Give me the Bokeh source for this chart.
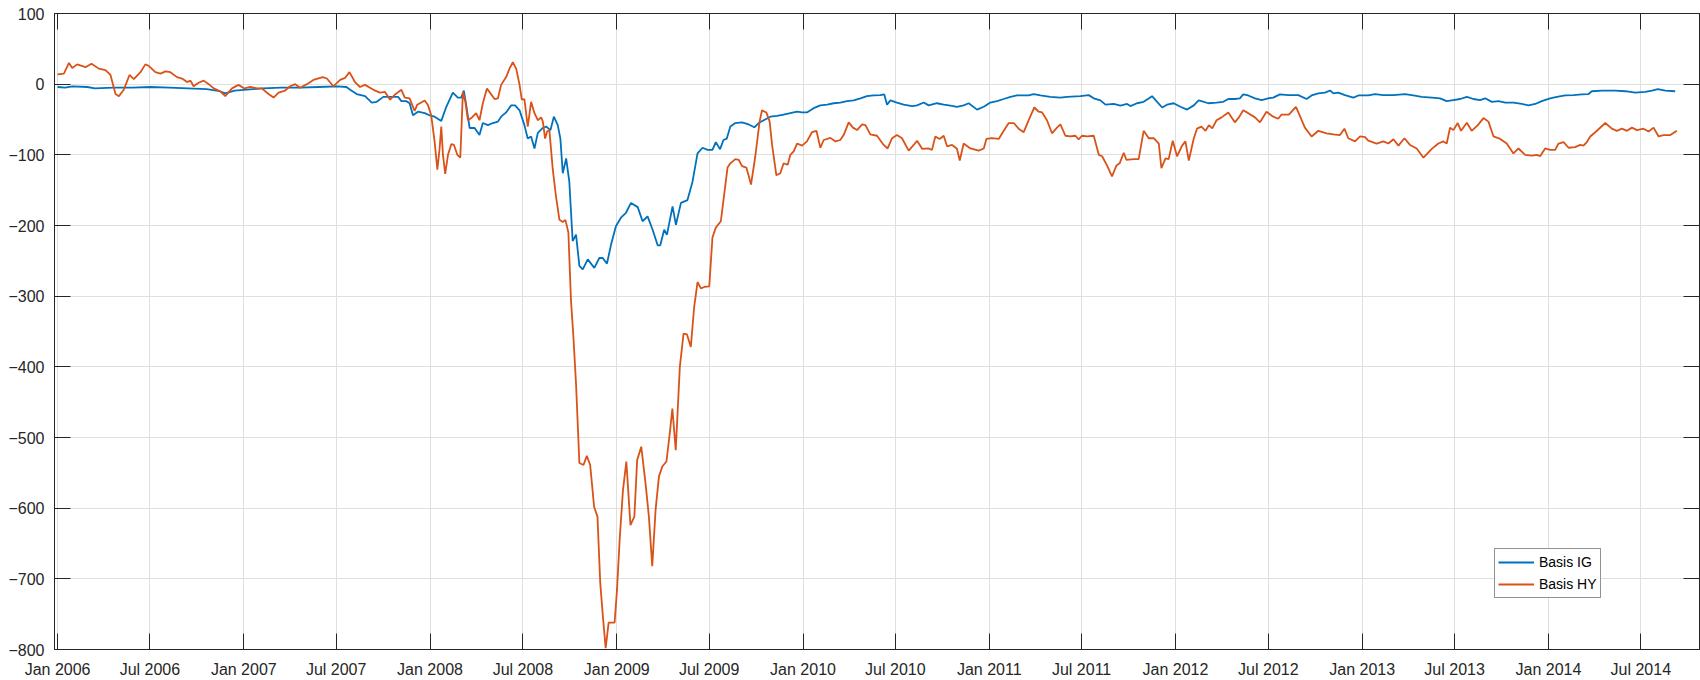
import numpy as np
import pandas as pd
from bokeh.plotting import figure
from bokeh.models import (FixedTicker, DatetimeTickFormatter, LinearAxis, DatetimeAxis,
                          Legend, LegendItem, Range1d)
from bokeh.embed import file_html
from bokeh.resources import INLINE

# ---- data (time in years since 1 Jan 2006, values in bp) ----
ig_yrs = [0.000, 0.040, 0.079, 0.160, 0.200, 0.300, 0.400, 0.500, 0.600, 0.700, 0.800, 0.870, 0.900, 0.950,
          1.000, 1.100, 1.200, 1.300, 1.400, 1.500, 1.550, 1.570, 1.605, 1.650, 1.686, 1.713, 1.748, 1.791,
          1.827, 1.845, 1.871, 1.889, 1.907, 1.934, 1.970, 1.996, 2.023, 2.059, 2.086, 2.121, 2.148, 2.166,
          2.180, 2.193, 2.211, 2.238, 2.264, 2.282, 2.309, 2.336, 2.363, 2.380, 2.407, 2.434, 2.455, 2.479,
          2.505, 2.523, 2.541, 2.559, 2.577, 2.604, 2.621, 2.645, 2.663, 2.684, 2.698, 2.711, 2.729, 2.746,
          2.764, 2.782, 2.800, 2.818, 2.845, 2.880, 2.907, 2.925, 2.948, 2.970, 2.996, 3.023, 3.050, 3.077,
          3.113, 3.139, 3.166, 3.193, 3.220, 3.234, 3.255, 3.270, 3.300, 3.318, 3.345, 3.380, 3.407, 3.434,
          3.461, 3.488, 3.514, 3.532, 3.555, 3.573, 3.591, 3.610, 3.637, 3.673, 3.708, 3.739, 3.762, 3.789,
          3.825, 3.860, 3.896, 3.932, 3.968, 3.995, 4.021, 4.057, 4.093, 4.129, 4.165, 4.200, 4.236, 4.272,
          4.308, 4.343, 4.379, 4.415, 4.436, 4.451, 4.469, 4.504, 4.540, 4.585, 4.612, 4.648, 4.674, 4.719,
          4.755, 4.791, 4.826, 4.862, 4.889, 4.934, 4.970, 5.005, 5.041, 5.077, 5.113, 5.148, 5.184, 5.211,
          5.238, 5.274, 5.327, 5.381, 5.417, 5.488, 5.533, 5.560, 5.596, 5.623, 5.667, 5.703, 5.739, 5.757,
          5.792, 5.828, 5.873, 5.900, 5.927, 5.953, 5.989, 6.025, 6.061, 6.097, 6.123, 6.138, 6.174, 6.219,
          6.255, 6.282, 6.317, 6.344, 6.362, 6.389, 6.425, 6.461, 6.496, 6.523, 6.559, 6.604, 6.658, 6.702,
          6.729, 6.765, 6.801, 6.828, 6.846, 6.872, 6.908, 6.953, 6.980, 7.033, 7.069, 7.114, 7.168, 7.230,
          7.275, 7.320, 7.374, 7.418, 7.454, 7.490, 7.526, 7.562, 7.597, 7.633, 7.660, 7.696, 7.732, 7.768,
          7.812, 7.857, 7.893, 7.929, 7.964, 8.009, 8.045, 8.090, 8.134, 8.179, 8.215, 8.233, 8.287, 8.358,
          8.412, 8.466, 8.519, 8.555, 8.587, 8.627, 8.680]
ig_val = [-4, -5, -3, -4, -6, -5, -5, -4, -5, -6, -7, -10, -13, -9,
          -8, -6, -5, -5, -4, -3, -4, -8, -14, -17, -26, -25, -18, -18,
          -18, -24, -24, -27, -44, -39, -41, -44, -46, -52, -32, -12, -19, -19,
          -9, -30, -62, -62, -72, -55, -58, -55, -53, -46, -40, -30, -30, -37,
          -58, -77, -74, -91, -69, -62, -60, -65, -46, -58, -77, -126, -105, -138,
          -222, -213, -257, -262, -248, -260, -246, -246, -254, -227, -201, -189, -182, -168,
          -174, -194, -187, -206, -228, -228, -206, -213, -173, -199, -168, -164, -138, -98,
          -90, -93, -93, -82, -92, -79, -77, -60, -55, -54, -57, -61, -55, -51,
          -46, -45, -43, -41, -39, -40, -40, -34, -30, -29, -27, -26, -24, -23,
          -20, -17, -16, -15.5, -14.5, -29, -23, -26, -29, -31, -30, -26, -30, -27,
          -29, -30.5, -32, -30, -27, -36, -32, -26, -24, -21, -18, -16, -16, -16,
          -14, -16, -18, -19, -18, -17, -15.5, -20, -23, -29, -28, -30.5, -28, -31,
          -27, -25, -17, -25, -33, -29, -27, -32, -36, -30, -23, -24, -27, -26,
          -25, -21, -21, -20, -14.5, -16, -20, -22.5, -20, -19, -14.5, -15.5, -15.5, -21,
          -16, -13, -12, -9, -13, -12, -15.5, -19, -16, -16, -14, -15.5, -15.5, -14,
          -16, -18, -19, -20, -24, -22.5, -21, -18, -21, -22.5, -20, -25, -24, -26,
          -26, -28, -30, -28, -24, -20, -18, -16, -15.5, -14.5, -14, -10, -9, -9,
          -10, -12, -11, -9, -7, -9, -10]

hy_yrs = [0.000, 0.034, 0.061, 0.079, 0.105, 0.150, 0.182, 0.221, 0.257, 0.284, 0.311, 0.329, 0.355, 0.386,
          0.409, 0.445, 0.471, 0.489, 0.525, 0.552, 0.579, 0.605, 0.641, 0.668, 0.695, 0.713, 0.730, 0.757,
          0.784, 0.811, 0.838, 0.873, 0.900, 0.936, 0.971, 1.002, 1.034, 1.070, 1.096, 1.132, 1.159, 1.186,
          1.221, 1.248, 1.275, 1.302, 1.338, 1.373, 1.423, 1.445, 1.480, 1.516, 1.543, 1.566, 1.596, 1.623,
          1.650, 1.695, 1.730, 1.757, 1.784, 1.809, 1.845, 1.863, 1.889, 1.916, 1.930, 1.970, 1.988, 2.005,
          2.023, 2.038, 2.050, 2.059, 2.068, 2.080, 2.095, 2.113, 2.127, 2.145, 2.161, 2.175, 2.188, 2.202,
          2.220, 2.246, 2.264, 2.282, 2.304, 2.323, 2.345, 2.363, 2.380, 2.407, 2.425, 2.443, 2.461, 2.479,
          2.491, 2.505, 2.523, 2.541, 2.559, 2.577, 2.595, 2.604, 2.616, 2.627, 2.639, 2.657, 2.675, 2.693,
          2.711, 2.725, 2.741, 2.755, 2.768, 2.782, 2.800, 2.822, 2.840, 2.858, 2.879, 2.897, 2.912, 2.926,
          2.941, 2.957, 2.989, 3.002, 3.016, 3.034, 3.052, 3.074, 3.095, 3.110, 3.132, 3.155, 3.173, 3.191,
          3.209, 3.227, 3.245, 3.267, 3.285, 3.299, 3.317, 3.339, 3.359, 3.377, 3.398, 3.416, 3.434, 3.452,
          3.470, 3.497, 3.514, 3.532, 3.559, 3.577, 3.595, 3.610, 3.637, 3.655, 3.673, 3.696, 3.721, 3.744,
          3.767, 3.780, 3.803, 3.821, 3.834, 3.857, 3.878, 3.896, 3.918, 3.932, 3.950, 3.968, 3.995, 4.021,
          4.048, 4.072, 4.093, 4.111, 4.147, 4.174, 4.200, 4.218, 4.245, 4.268, 4.290, 4.317, 4.335, 4.361,
          4.397, 4.433, 4.454, 4.478, 4.504, 4.531, 4.567, 4.594, 4.612, 4.639, 4.674, 4.692, 4.710, 4.733,
          4.755, 4.773, 4.800, 4.826, 4.841, 4.862, 4.898, 4.943, 4.970, 4.984, 5.014, 5.050, 5.077, 5.104,
          5.131, 5.157, 5.184, 5.211, 5.241, 5.265, 5.283, 5.309, 5.336, 5.363, 5.381, 5.408, 5.435, 5.462,
          5.479, 5.497, 5.524, 5.560, 5.587, 5.605, 5.631, 5.658, 5.682, 5.699, 5.721, 5.735, 5.775, 5.801,
          5.828, 5.855, 5.882, 5.909, 5.923, 5.945, 5.962, 5.984, 6.007, 6.034, 6.052, 6.070, 6.097, 6.114,
          6.138, 6.160, 6.178, 6.196, 6.219, 6.246, 6.282, 6.317, 6.339, 6.362, 6.389, 6.425, 6.452, 6.487,
          6.523, 6.550, 6.568, 6.607, 6.645, 6.666, 6.693, 6.729, 6.765, 6.810, 6.846, 6.881, 6.905, 6.926,
          6.962, 6.989, 7.016, 7.033, 7.078, 7.114, 7.141, 7.168, 7.195, 7.227, 7.257, 7.293, 7.329, 7.374,
          7.409, 7.436, 7.454, 7.472, 7.490, 7.513, 7.531, 7.562, 7.588, 7.621, 7.651, 7.678, 7.705, 7.741,
          7.776, 7.812, 7.839, 7.875, 7.911, 7.938, 7.955, 7.982, 8.009, 8.036, 8.054, 8.081, 8.108, 8.143,
          8.170, 8.188, 8.206, 8.224, 8.251, 8.305, 8.340, 8.367, 8.394, 8.421, 8.448, 8.475, 8.510, 8.537,
          8.564, 8.591, 8.618, 8.654, 8.689]
hy_val = [14, 15, 30, 23, 28, 24, 29, 22, 20, 13, -14, -17, -8, 13,
          7, 17, 28, 26, 17, 15, 18, 17, 10, 8, 3, 5, -3, 2,
          5, 0, -6, -10, -17, -6, -1, -6, -4, -6, -6, -14, -19, -12,
          -9, -3, 0, -5, 0, 6, 10, 8, -3, 6, 9, 17, 3, -4,
          -1, -8, -12, -11, -22, -15, -8, -19, -20, -38, -29, -23, -30, -44,
          -81, -121, -91, -60, -100, -127, -100, -85, -86, -100, -104, -11, -25, -51,
          -48, -41, -51, -27, -6, -13, -21, -20, -1, 10, 22, 31, 22, -1,
          -22, -21, -60, -25, -41, -51, -47, -53, -77, -67, -65, -120, -160, -192,
          -195, -192, -210, -306, -358, -424, -536, -539, -526, -539, -598, -612, -706, -753,
          -798, -762, -762, -715, -645, -574, -534, -624, -612, -532, -513, -565, -612, -682,
          -602, -555, -541, -534, -494, -459, -518, -400, -353, -354, -372, -315, -280, -289,
          -287, -286, -217, -203, -194, -156, -118, -112, -106, -107, -116, -118, -142, -102,
          -53, -37, -40, -53, -86, -129, -126, -112, -114, -100, -95, -84, -87, -81,
          -68, -66, -90, -79, -76, -81, -79, -72, -54, -61.5, -65, -57, -58, -71,
          -73, -86, -91, -76.5, -72, -76.5, -94, -86, -80, -91.5, -91, -93, -74, -77.5,
          -73, -88, -86, -91.5, -108, -84, -91, -94, -91, -77.5, -76.5, -77.5, -66, -55,
          -55, -63, -68, -51, -33, -39, -40, -51, -69.5, -61.5, -57, -73, -74, -73,
          -78, -73, -74, -73, -100, -102, -115, -130.5, -115, -112, -97, -107, -106, -106,
          -66, -76.5, -76.5, -84, -119, -105, -106, -80, -102, -87, -81, -108, -76.5, -63,
          -60, -66, -58, -62.5, -51, -47, -40, -54, -47, -37, -41, -47, -54, -39,
          -46, -49, -43, -43, -32, -45, -61.5, -74, -66, -69.5, -71, -72, -63, -76.5,
          -81, -74, -75, -80, -84, -81, -84, -78, -87, -76.5, -86, -91, -104, -91.5,
          -84, -81, -84, -61.5, -65, -55, -66, -54.5, -66, -58, -48, -53, -74, -77.5,
          -84, -98, -91, -100, -101, -100, -102, -91, -93, -93, -84, -82, -90, -89,
          -86, -87, -82, -74, -68, -55, -63, -66, -63, -66, -61.5, -65, -63, -67,
          -61.5, -74, -72, -72, -66]

series_names = ["Basis IG", "Basis HY"]
series_colors = ["#0072BD", "#D95319"]
x_tick_dates = ["2006-01-01", "2006-07-01", "2007-01-01", "2007-07-01", "2008-01-01", "2008-07-01",
                "2009-01-01", "2009-07-01", "2010-01-01", "2010-07-01", "2011-01-01", "2011-07-01",
                "2012-01-01", "2012-07-01", "2013-01-01", "2013-07-01", "2014-01-01", "2014-07-01"]
y_ticks = [-800, -700, -600, -500, -400, -300, -200, -100, 0, 100]


def to_dt(yrs):
    return pd.Timestamp("2006-01-01") + pd.to_timedelta(np.asarray(yrs) * 365.25, unit="D")


FONT = "Liberation Sans"
TXT = "#262626"

xticker = FixedTicker(ticks=[pd.Timestamp(d).value / 1e6 for d in x_tick_dates])
yticker = FixedTicker(ticks=y_ticks)
fmt = "%b %Y"
xfmt = DatetimeTickFormatter(milliseconds=fmt, seconds=fmt, minsec=fmt, minutes=fmt, hourmin=fmt,
                             hours=fmt, days=fmt, months=fmt, years=fmt)

p = figure(width=1700, height=680, x_axis_type="datetime",
           x_range=Range1d(pd.Timestamp("2005-12-26"), pd.Timestamp("2014-10-24")),
           y_range=Range1d(-800, 100),
           output_backend="svg", toolbar_location=None,
           min_border_left=54, min_border_right=1, min_border_top=13, min_border_bottom=31,
           background_fill_color="white", border_fill_color="white",
           outline_line_color=TXT, outline_line_width=1)

r_ig = p.line(to_dt(ig_yrs), ig_val, line_color=series_colors[0], line_width=1.8)
r_hy = p.line(to_dt(hy_yrs), hy_val, line_color=series_colors[1], line_width=1.8)

# grid
p.xgrid.ticker = xticker
p.ygrid.ticker = yticker
for g in (p.xgrid, p.ygrid):
    g.grid_line_color = "#dfdfdf"
    g.grid_line_width = 1

# bottom / left axes
xa = p.xaxis[0]
xa.ticker = xticker
xa.formatter = xfmt
ya = p.yaxis[0]
ya.ticker = yticker


def style_axis(ax, labels=True):
    ax.axis_line_color = TXT
    ax.major_tick_line_color = TXT
    ax.major_tick_in = 16
    ax.major_tick_out = 0
    ax.minor_tick_line_color = None
    ax.major_label_text_font = FONT
    if labels:
        ax.major_label_text_color = TXT
        ax.major_label_text_font_size = "16px"
    else:
        ax.major_label_text_color = None
        ax.major_label_text_font_size = "0px"
        ax.major_label_standoff = 0


style_axis(xa)
style_axis(ya)
xa.major_label_standoff = 11
ya.major_label_standoff = 10

# box: top and right axes with tick marks only
top = DatetimeAxis(ticker=xticker, formatter=xfmt)
right = LinearAxis(ticker=yticker)
style_axis(top, labels=False)
style_axis(right, labels=False)
p.add_layout(top, "above")
p.add_layout(right, "right")

legend = Legend(items=[LegendItem(label=series_names[0], renderers=[r_ig]),
                       LegendItem(label=series_names[1], renderers=[r_hy])],
                location=(1440, 51), orientation="vertical")
legend.label_text_font = FONT
legend.label_text_font_size = "14px"
legend.label_text_color = "#000000"
legend.border_line_color = TXT
legend.border_line_width = 1
legend.background_fill_color = "white"
legend.background_fill_alpha = 1
legend.glyph_width = 36
legend.glyph_height = 20
legend.label_height = 20
legend.spacing = 2
legend.padding = 3
legend.margin = 0
legend.label_standoff = 5
p.add_layout(legend)

open("out.html", "w").write(file_html(p, INLINE))
